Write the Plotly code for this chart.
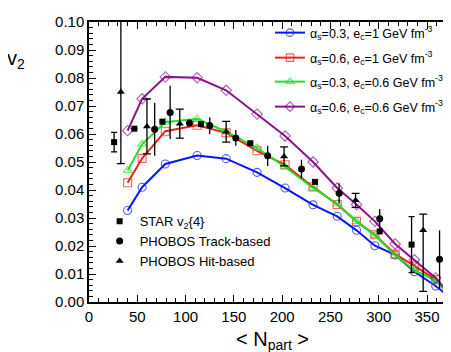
import plotly.graph_objects as go

# ---- model curves (common N_part grid) ----
npart_model = [40, 55, 79, 112, 142, 174, 203, 232, 257, 277, 296, 317, 337, 359, 380]
v2_a03_e1 = [0.0327, 0.0410, 0.0493, 0.0523, 0.0512, 0.0463, 0.0407, 0.0347, 0.0306, 0.0256, 0.0201, 0.0168, 0.0108, 0.0057, 0.0]
v2_a06_e1 = [0.0426, 0.0513, 0.0610, 0.0631, 0.0604, 0.0540, 0.0490, 0.0411, 0.0348, 0.0288, 0.0240, 0.0171, 0.0129, 0.0080, 0.0]
v2_a03_e06 = [0.0470, 0.0564, 0.0642, 0.0654, 0.0608, 0.0550, 0.0482, 0.0407, 0.0351, 0.0288, 0.0238, 0.0167, 0.0113, 0.0077, 0.0]
v2_a06_e06 = [0.0612, 0.0726, 0.0804, 0.0801, 0.0756, 0.0671, 0.0593, 0.0500, 0.0407, 0.0348, 0.0288, 0.0207, 0.0151, 0.0086, 0.0]
model_names = [
    "α<sub>s</sub>=0.3, e<sub>c</sub>=1 GeV fm<sup>-3</sup>",
    "α<sub>s</sub>=0.6, e<sub>c</sub>=1 GeV fm<sup>-3</sup>",
    "α<sub>s</sub>=0.3, e<sub>c</sub>=0.6 GeV fm<sup>-3</sup>",
    "α<sub>s</sub>=0.6, e<sub>c</sub>=0.6 GeV fm<sup>-3</sup>",
]

# ---- data ----
star_x = [26, 47, 76, 116, 167, 234, 301, 334]
star_y = [0.0571, 0.0619, 0.0644, 0.0635, 0.0567, 0.0429, 0.0252, 0.0205]
star_e = [0.0035, 0.0, 0.0, 0.0, 0.0, 0.0, 0.0, 0.0100]

track_x = [68, 84, 104, 125, 152, 185, 220, 259, 301, 363]
track_y = [0.0617, 0.0677, 0.0639, 0.0630, 0.0586, 0.0522, 0.0475, 0.0388, 0.0297, 0.0153]
track_e = [0.0095, 0.0095, 0.0, 0.0030, 0.0028, 0.0036, 0.0033, 0.0036, 0.0035, 0.0103]

hit_x = [33, 60, 94, 142, 202, 276, 346]
hit_y = [0.0750, 0.0627, 0.0637, 0.0608, 0.0520, 0.0363, 0.0256]
hit_e_up = [0.0256, 0.0098, 0.0052, 0.0037, 0.0034, 0.0025, 0.0058]
hit_e_dn = [0.0256, 0.0098, 0.0052, 0.0037, 0.0034, 0.0025, 0.0218]

data_names = ["STAR v<sub>2</sub>{4}", "PHOBOS Track-based", "PHOBOS Hit-based"]

x_ticks = [0, 50, 100, 150, 200, 250, 300, 350]
y_ticks = [0.00, 0.01, 0.02, 0.03, 0.04, 0.05, 0.06, 0.07, 0.08, 0.09, 0.10]

FONT = "Liberation Sans, Arial, sans-serif"

fig = go.Figure()

model_series = [v2_a03_e1, v2_a06_e1, v2_a03_e06, v2_a06_e06]
model_colors = ["#0a14ff", "#f01e1e", "#22e022", "#8a128a"]
model_symbols = ["circle-open", "square-open", "triangle-up-open", "diamond-open"]
legend_ids = ["legend", "legend3", "legend4", "legend5"]
legend_rows_px = [25, 50, 74, 99]  # anchor rows in pixels from the top of the figure
n = len(npart_model)
msizes = [8] * (n - 1) + [0]
for ys, col, sym, name, lid in zip(model_series, model_colors, model_symbols, model_names, legend_ids):
    fig.add_trace(go.Scatter(
        x=npart_model, y=ys, mode="lines+markers", name=name,
        line=dict(color=col, width=2),
        marker=dict(symbol=sym, size=msizes, color=col, line=dict(width=1.1, color=col)),
        legend=lid,
    ))

fig.add_trace(go.Scatter(
    x=star_x, y=star_y, mode="markers", name=data_names[0],
    marker=dict(symbol="square", size=6, color="black"),
    error_y=dict(type="data", array=star_e, color="black", thickness=1.3, width=3),
    legend="legend2",
))
fig.add_trace(go.Scatter(
    x=track_x, y=track_y, mode="markers", name=data_names[1],
    marker=dict(symbol="circle", size=7, color="black"),
    error_y=dict(type="data", array=track_e, color="black", thickness=1.3, width=0),
    legend="legend2",
))
fig.add_trace(go.Scatter(
    x=hit_x, y=hit_y, mode="markers", name=data_names[2],
    marker=dict(symbol="triangle-up", size=7, color="black"),
    error_y=dict(type="data", symmetric=False, array=hit_e_up, arrayminus=hit_e_dn,
                 color="black", thickness=1.3, width=4),
    legend="legend2",
))

axis_common = dict(
    showline=True, linecolor="black", linewidth=1.5, mirror="allticks",
    ticks="inside", ticklen=7, tickwidth=1.2, tickcolor="black",
    showgrid=False, zeroline=False,
    tickfont=dict(family=FONT, size=15, color="black"),
)

PLOT_TOP, PLOT_H = 14, 280
legend_layouts = {}
for lid, ypx in zip(legend_ids, legend_rows_px):
    legend_layouts[lid] = dict(
        x=(263 - 81) / 369, y=(PLOT_TOP + PLOT_H - ypx) / PLOT_H,
        xanchor="left", yanchor="middle",
        bgcolor="rgba(0,0,0,0)", font=dict(family=FONT, size=12.5),
        itemwidth=30,
    )

fig.update_layout(
    width=451, height=352,
    margin=dict(l=81, r=1, t=PLOT_TOP, b=58),
    plot_bgcolor="white", paper_bgcolor="white",
    font=dict(family=FONT, color="black"),
    xaxis=dict(range=[0, 380], tickvals=x_ticks,
               minor=dict(ticks="inside", dtick=10, ticklen=4, tickcolor="black", showgrid=False),
               title=dict(text="< N<sub>part</sub> >", font=dict(family=FONT, size=20), standoff=8),
               **axis_common),
    yaxis=dict(range=[0, 0.10], tickvals=y_ticks, tickformat=".2f",
               minor=dict(ticks="inside", dtick=0.002, ticklen=4, tickcolor="black", showgrid=False),
               **axis_common),
    legend2=dict(x=0.029, y=0.342, xanchor="left", yanchor="top",
                 bgcolor="rgba(0,0,0,0)", font=dict(family=FONT, size=13),
                 tracegroupgap=0),
    showlegend=True,
    **legend_layouts,
)

fig.add_annotation(text="v<sub>2</sub>", xref="paper", yref="paper",
                   x=-0.2, y=(PLOT_TOP + PLOT_H - 37) / PLOT_H, xanchor="center", yanchor="top",
                   showarrow=False, font=dict(family=FONT, size=20, color="black"))

fig.write_html("out.html")
